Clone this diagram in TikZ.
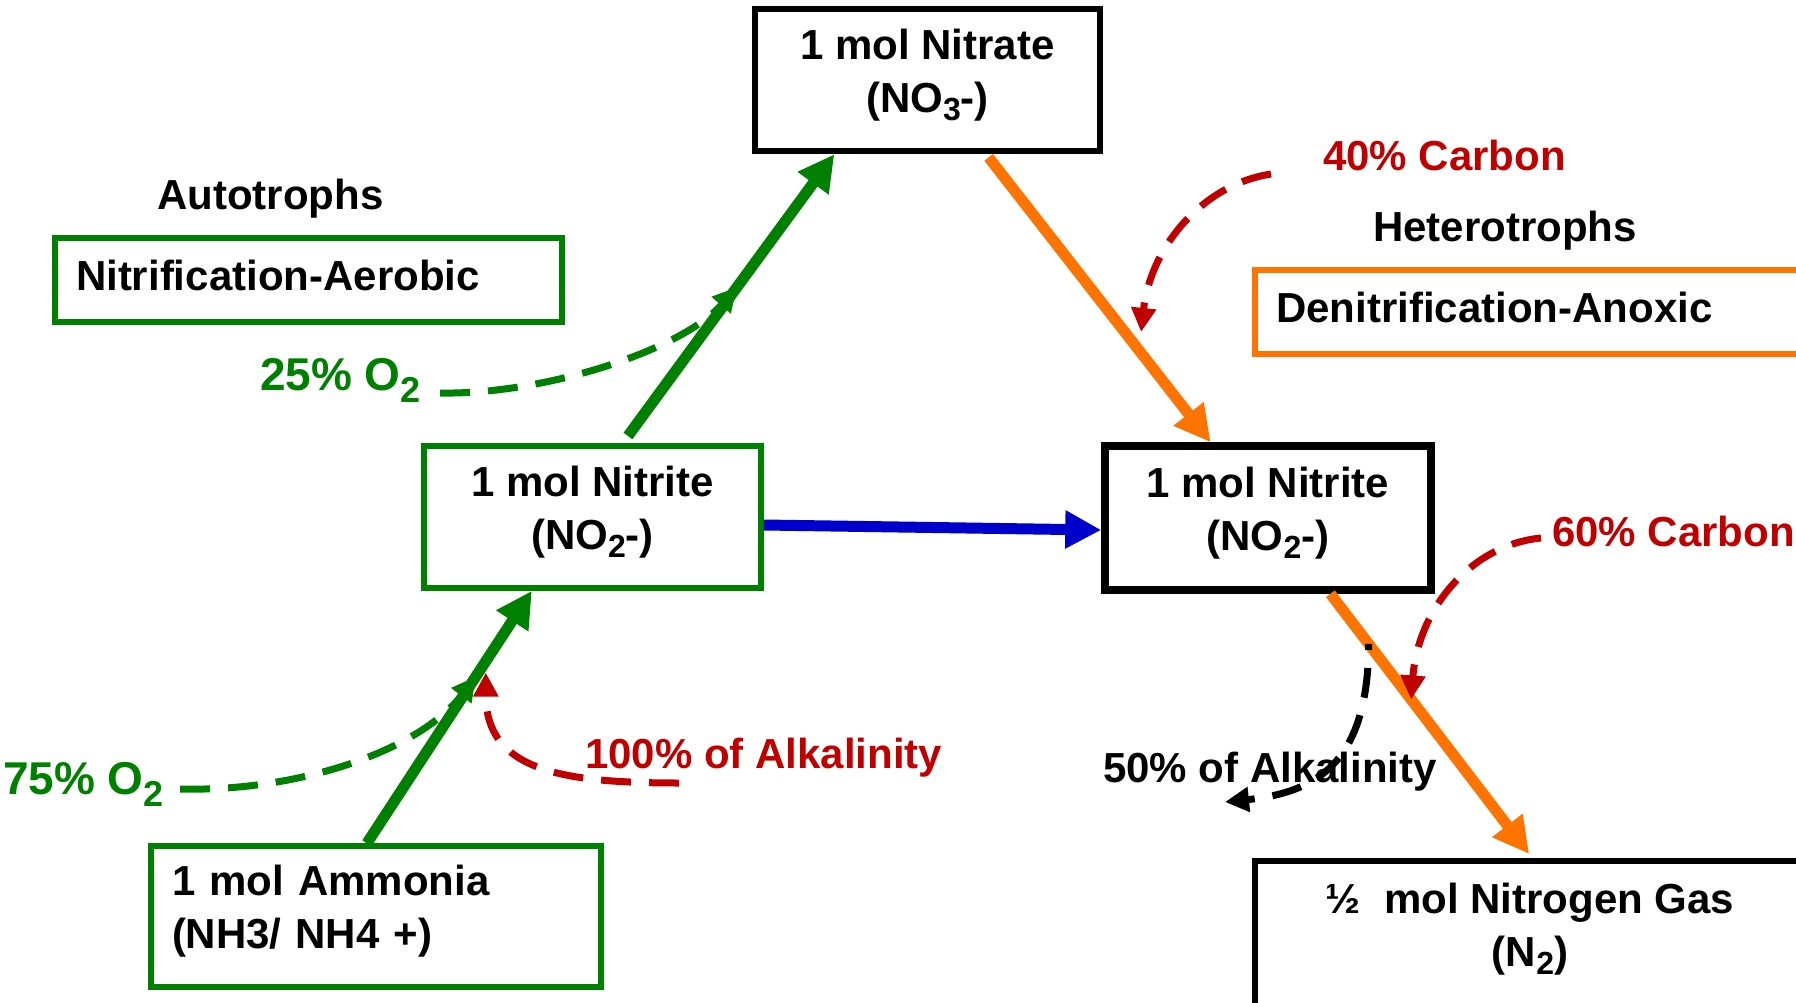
\documentclass[tikz,border=0pt]{standalone}
\usepackage{fontspec}
\setmainfont{Liberation Sans}
\usetikzlibrary{arrows.meta,calc}
\definecolor{leaf}{RGB}{0,128,0}
\definecolor{tangerine}{RGB}{255,115,0}
\definecolor{wine}{RGB}{192,0,0}
\definecolor{royal}{RGB}{0,0,205}
% lowered, smaller chemical index: #1 drop, #2 size, #3 text
\newcommand{\chemsub}[3]{\raisebox{-#1}{\fontsize{#2}{#2}\selectfont #3}}
% invisible depth that lifts a two-line box text a little
\newcommand{\liftby}[1]{\rule[-#1]{0pt}{1pt}}

\begin{document}
\begin{tikzpicture}[x=1pt,y=-1pt,
  txt/.style={font={\fontsize{42}{53}\selectfont\bfseries}, inner sep=0pt},
  gaslabel/.style={font={\fontsize{46}{50}\selectfont\bfseries}, inner sep=0pt, text=leaf, anchor=base west},
  box/.style={txt, draw, align=center},
  flow/.style={line width=11pt, -{Triangle[length=36pt,width=36pt]}},
  feed/.style={line width=7pt, dash pattern=on 30pt off 18pt, -{Triangle[length=24pt,width=24pt]}},
]
\fill[white] (0,0) rectangle (1796,1003);
\useasboundingbox (0,0) rectangle (1796,1003);
\clip (0,0) rectangle (1796,1003);

% compounds
\node[box, line width=6.5pt, minimum width=345pt, minimum height=142pt] (nitrate) at (927.5,80)
  {1 mol Nitrate\\(NO\chemsub{8pt}{32}{3}-)\liftby{19pt}};
\node[box, draw=leaf, line width=5.5pt, minimum width=337pt, minimum height=142pt] (nitL) at (592.5,517)
  {1 mol Nitrite\\(NO\chemsub{8pt}{32}{2}-)\liftby{19pt}};
\node[box, draw=leaf, line width=5.5pt, minimum width=450pt, minimum height=141pt,
      text width=408pt, align=left] (amm) at (376,916.5)
  {1 mol Ammonia\\(NH3/ NH4 +)\liftby{19pt}};
\node[box, line width=7.5pt, minimum width=326pt, minimum height=144pt] (nitR) at (1268,518)
  {1 mol Nitrite\\(NO\chemsub{8pt}{32}{2}-)\liftby{19pt}};
\node[box, line width=6pt, minimum width=550pt, minimum height=150pt] (gas) at (1530,936)
  {½~~mol Nitrogen Gas\\(N\chemsub{8pt}{32}{2})\liftby{23pt}};

% process boxes
\node[box, draw=leaf, line width=5.5pt, minimum width=507pt, minimum height=84pt,
      text width=465pt, align=left, text depth=10pt] (nitrif) at (308.5,280) {Nitrification-Aerobic};
\node[box, draw=tangerine, line width=5.5pt, minimum width=550pt, minimum height=84pt,
      text width=508pt, align=left, text depth=10pt] (deni) at (1530,312) {Denitrification-Anoxic};

% headings and inputs
\node[txt, anchor=base west] (auto) at (157,210) {Autotrophs};
\node[txt, anchor=base west] (hetero) at (1373,241) {Heterotrophs};
\node[txt, anchor=base west, text=wine] (c40) at (1323,171) {40\% Carbon};
\node[txt, anchor=base west, text=wine] (c60) at (1552,546) {60\% Carbon};
\node[txt, anchor=base west, text=wine] (alk100) at (585,768) {100\% of Alkalinity};
\node[txt, anchor=base west] (alk50) at (1103,782) {50\% of Alkalinity};
\node[gaslabel] (o25) at (260,390) {25\% O\chemsub{12pt}{36}{2}};
\node[gaslabel] (o75) at (3,794) {75\% O\chemsub{12pt}{36}{2}};

% attachment points on the boxes
\coordinate (ammTop)  at ($(amm.north west)!0.48!(amm.north east)$);
\coordinate (nitLBot) at ($(nitL.south west)!0.323!(nitL.south east)$);
\coordinate (nitLTop) at ($(nitL.north west)!0.588!(nitL.north east)$);
\coordinate (nitrBot) at ($(nitrate.south west)!0.235!(nitrate.south east)$);
\coordinate (nitrOut) at ($(nitrate.south west)!0.667!(nitrate.south east)$);
\coordinate (nitRTop) at ($(nitR.north west)!0.328!(nitR.north east)$);
\coordinate (nitRBot) at ($(nitR.south west)!0.687!(nitR.south east)$);
\coordinate (gasTop)  at ($(gas.north west)!0.504!(gas.north east)$);

% main conversions
\draw[flow, leaf] (ammTop) -- (nitLBot);
\draw[flow, leaf, shorten <=9pt] (nitLTop) -- (nitrBot);
\draw[flow, royal] ($(nitL.east)+(0,8)$) -- ($(nitR.west)+(0,12)$);
\draw[flow, tangerine, shorten <=4pt] (nitrOut) -- (nitRTop);
\draw[flow, tangerine, shorten >=5pt] (nitRBot) -- (gasTop);

% points where the inputs meet the conversions
\coordinate (g25) at ($(nitLTop)!0.54!(nitrBot)$);
\coordinate (g75) at ($(ammTop)!0.66!(nitLBot)$);
\coordinate (alkTip) at ($(g75)+(10,-4)$);
\coordinate (c40Tip) at ($(nitrOut)!0.61!(nitRTop)+(18,2)$);
\coordinate (c60Tip) at ($(nitRBot)!0.4!(gasTop)$);
\coordinate (alkOut) at ($(nitRBot)!0.19!(gasTop)$);

% inputs and outputs
\draw[feed, leaf] ($(o25.base east)+(19,3)$) .. controls (540,395) and (680,352) .. (g25);
\draw[feed, leaf] ($(o75.base east)+(16,-5)$) .. controls (300,792) and (420,750) .. (g75);
\draw[feed, wine] ($(alk100.base west)+(94,15)$) .. controls (560,783) and (486,770) .. (alkTip);
\draw[feed, wine] ($(c40.base west)+(-52,3)$) .. controls (1200,185) and (1150,250) .. (c40Tip);
\draw[feed, wine] ($(c60.base west)+(-11,-8)$) .. controls (1470,545) and (1418,610) .. (c60Tip);
\draw[feed, black, dash phase=24pt] (alkOut) .. controls (1368,760) and (1320,792) .. (1225,802);
\end{tikzpicture}
\end{document}
